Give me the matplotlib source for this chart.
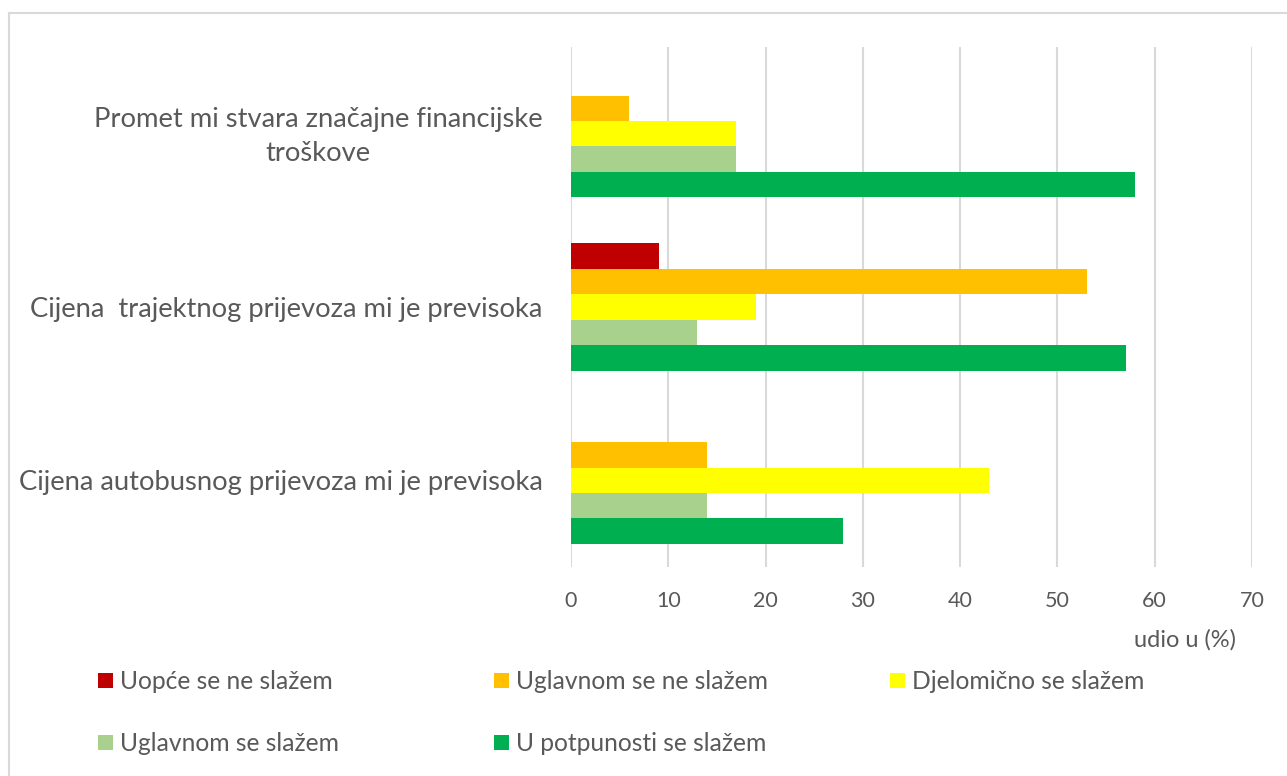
import matplotlib
matplotlib.use("Agg")
import matplotlib.pyplot as plt
import matplotlib.transforms as mtransforms
from matplotlib.lines import Line2D
from matplotlib.patches import Patch
import numpy as np

categories = [
    "Cijena autobusnog prijevoza mi je previsoka",
    "Cijena  trajektnog prijevoza mi je previsoka",
    "Promet mi stvara značajne financijske\ntroškove",
]
series_names = [
    "Uopće se ne slažem",
    "Uglavnom se ne slažem",
    "Djelomično se slažem",
    "Uglavnom se slažem",
    "U potpunosti se slažem",
]
# values per series, in category order (bottom to top)
uopce = [0, 9, 0]
uglavnom_ne = [14, 53, 6]
djelomicno = [43, 19, 17]
uglavnom_da = [14, 13, 17]
potpuno = [28, 57, 58]
series_values = [uopce, uglavnom_ne, djelomicno, uglavnom_da, potpuno]
colors = ["#C00000", "#FFC000", "#FFFF00", "#A9D18E", "#00B050"]
xticks = [0, 10, 20, 30, 40, 50, 60, 70]
xlabel = "udio u (%)"

font = "Lato"
text_color = "#595959"
W, H = 1287, 776

fig = plt.figure(figsize=(W / 100, H / 100), dpi=100)
ax = fig.add_axes([571 / W, 1 - 567 / H, (1252 - 571) / W, (567 - 47) / H])

bar_h = 0.1466
y = np.arange(len(categories))
n = len(series_values)
for i, (vals, col) in enumerate(zip(series_values, colors)):
    offset = (n - 1) / 2 - i
    ax.barh(y + offset * bar_h, vals, height=bar_h, color=col, zorder=3,
            label=series_names[i])

ax.set_xlim(0, 70)
ax.set_ylim(-0.5, 2.5)
ax.set_xticks(xticks)
ax.set_xticklabels([str(t) for t in xticks], fontsize=15.5, color=text_color, family=font)
ax.set_yticks(y)
ylabels = ax.set_yticklabels(categories, fontsize=19.7, color=text_color, family=font,
                             multialignment="center", linespacing=1.45)
ax.tick_params(axis="both", length=0)
ax.tick_params(axis="x", pad=17.3)
ax.tick_params(axis="y", pad=20.5)
ax.grid(axis="x", color="#D9D9D9", linewidth=1.5, zorder=0)
for s in ax.spines.values():
    s.set_visible(False)

# nudge the two-line label slightly upward
shift = mtransforms.ScaledTranslation(0, 4 / 100, fig.dpi_scale_trans)
ylabels[2].set_transform(ylabels[2].get_transform() + shift)

fig.text(1185 / W, 1 - 640 / H, xlabel, fontsize=17, color=text_color,
         family=font, ha="center", va="center")

# legend: three columns, filled row by row
fs = 17.7
col_x = [98, 494, 890]
columns = [[0, 3], [1, 4], [2]]
for cx, idxs in zip(col_x, columns):
    handles = [Patch(facecolor=colors[k], edgecolor="none") for k in idxs]
    labels = [series_names[k] for k in idxs]
    leg = fig.legend(handles, labels, loc="upper left",
                     bbox_to_anchor=(cx / W, 1 - 670 / H),
                     frameon=False, prop={"family": font, "size": fs},
                     handlelength=0.6, handleheight=0.6, handletextpad=0.28,
                     labelspacing=1.6, borderpad=0, borderaxespad=0)
    for t in leg.get_texts():
        t.set_color(text_color)

# chart border (top and left visible)
fig.add_artist(Line2D([8.5 / W, 1], [1 - 12.5 / H, 1 - 12.5 / H],
                      color="#D9D9D9", linewidth=1.5, transform=fig.transFigure))
fig.add_artist(Line2D([8.5 / W, 8.5 / W], [0, 1 - 12.5 / H],
                      color="#D9D9D9", linewidth=1.5, transform=fig.transFigure))

fig.savefig("out.png", dpi=100)
